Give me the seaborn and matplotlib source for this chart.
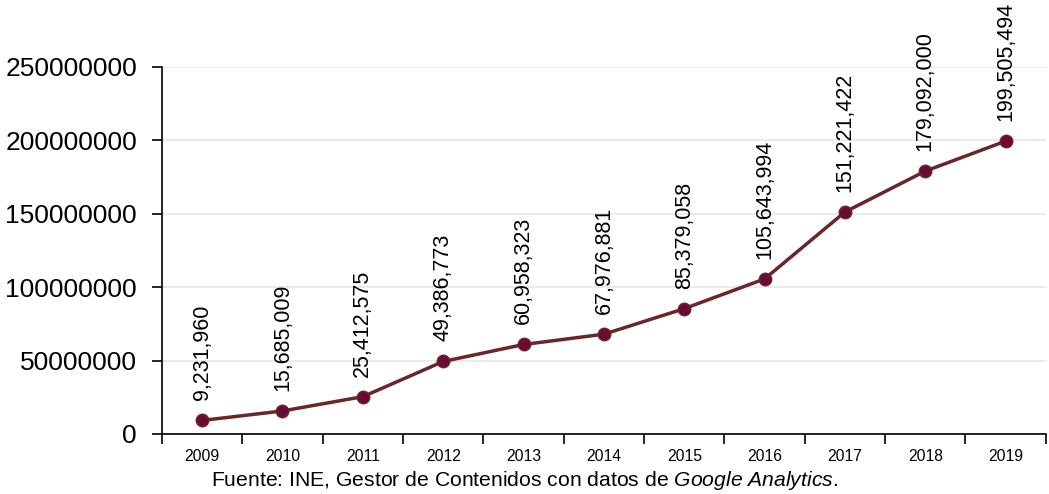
import matplotlib
matplotlib.use('Agg')
import matplotlib.pyplot as plt
import seaborn as sns
import pandas as pd
from matplotlib.ticker import FixedLocator

years = [2009, 2010, 2011, 2012, 2013, 2014, 2015, 2016, 2017, 2018, 2019]
visits = [9231960, 15685009, 25412575, 49386773, 60958323, 67976881,
          85379058, 105643994, 151221422, 179092000, 199505494]
df = pd.DataFrame({'year': years, 'visits': visits})

sns.set_style('white')
plt.rcParams['font.family'] = ['Liberation Sans', 'DejaVu Sans']
plt.rcParams['text.color'] = 'black'
plt.rcParams['xtick.color'] = 'black'
plt.rcParams['ytick.color'] = 'black'
plt.rcParams['mathtext.fontset'] = 'custom'
plt.rcParams['mathtext.rm'] = 'Liberation Sans'
plt.rcParams['mathtext.it'] = 'Liberation Sans:italic'

fig = plt.figure(figsize=(10.49, 4.94), dpi=100)
ax = fig.add_axes([0.1544, 0.1215, 0.8426, 0.7429])

sns.lineplot(data=df, x='year', y='visits', color='#6B2628', linewidth=2.5,
             marker='o', markersize=9, markerfacecolor='#6B0A32',
             markeredgecolor='#6B2628', markeredgewidth=1, ax=ax)

for x, y in zip(years, visits):
    ax.annotate(f'{y:,}', (x, y), xytext=(0, 20), textcoords='offset pixels',
                rotation=90, ha='center', va='bottom', fontsize=15.5,
                color='black', annotation_clip=False)

ax.set_xlim(2008.5, 2019.5)
ax.set_ylim(0, 250000000)
ax.set_yticks(range(0, 250000001, 50000000))
ax.set_yticklabels([str(v) for v in range(0, 250000001, 50000000)], fontsize=19)
ax.set_xticks(years)
ax.set_xticklabels([str(y) for y in years], fontsize=11.3)
ax.xaxis.set_minor_locator(FixedLocator([y + 0.5 for y in [2008] + years]))
ax.tick_params(axis='x', which='major', length=0, pad=11, labelcolor='black')
ax.tick_params(axis='x', which='minor', length=7, width=1.2, color='black', direction='out', bottom=True)
ax.tick_params(axis='y', length=7, width=1.2, color='black', direction='out', left=True, pad=11,
               labelcolor='black')

ax.grid(axis='y', color='#E8E8E8', linewidth=1.2)
ax.set_axisbelow(True)
for s in ['top', 'right']:
    ax.spines[s].set_visible(False)
for s in ['left', 'bottom']:
    ax.spines[s].set_color('black')
    ax.spines[s].set_linewidth(1.2)
ax.set_xlabel('')
ax.set_ylabel('')

fig.text(0.5, 0.028, r'Fuente: INE, Gestor de Contenidos con datos de $\mathit{Google\ Analytics}$.',
         ha='center', va='center', fontsize=15.2, color='black')

fig.savefig('out.png', dpi=100)
